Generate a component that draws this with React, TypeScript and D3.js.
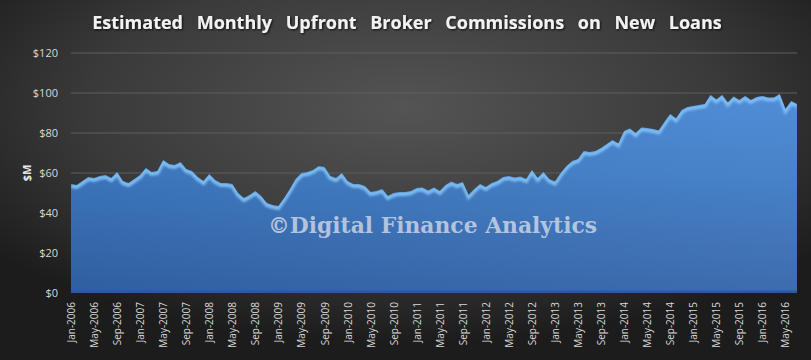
import React from "react";
import * as d3 from "d3";

const startYear = 2006;
const values: number[] = [
  54.5, 54, 56, 58, 57.5, 58.5, 59, 57.5, 60.5, 56, 55, 57, 59, 62.5, 60.5, 61,
  66.5, 64.5, 64, 65.5, 62, 61, 58, 56, 59.5, 56.5, 55, 55, 54.5, 50, 47.5, 49,
  51, 48.5, 45, 44, 43.5, 47.5, 52, 57, 60, 60.5, 61.5, 63.5, 63, 58.5, 57.5, 60,
  56, 54.5, 54.5, 53.5, 50.5, 51, 52, 48.5, 50, 50.5, 50.5, 51, 52.5, 52.8, 51.2, 52.8,
  51, 54, 55.7, 54.5, 55.5, 49, 52, 54.5, 53, 55, 56, 58, 58.5, 57.7, 58.2, 57,
  61.5, 57.5, 60.5, 57, 55.7, 60, 63.5, 66, 67, 71, 70.5, 71, 72.5, 74.5, 76.5, 74.8,
  81, 82.3, 80, 82.8, 82.5, 82, 81.3, 85.5, 89.5, 87.3, 91.5, 93, 93.5, 94, 94.5, 99,
  96.8, 99, 95.2, 98.2, 96.5, 98.5, 96.5, 98, 98.5, 97.7, 97.7, 99.5, 92, 96, 94.5,
];
const monthNames = ["Jan", "Feb", "Mar", "Apr", "May", "Jun", "Jul", "Aug", "Sep", "Oct", "Nov", "Dec"];
const categories: string[] = values.map((_, i) => `${monthNames[i % 12]}-${startYear + Math.floor(i / 12)}`);
const yTicks = [0, 20, 40, 60, 80, 100, 120];
const title = "Estimated Monthly Upfront Broker Commissions on New Loans";

const W = 811, H = 360;
const left = 71, right = 797, top = 53, bottom = 293;

export default function App() {
  const x = d3.scaleLinear().domain([0, values.length - 1]).range([left, right]);
  const y = d3.scaleLinear().domain([0, 120]).range([bottom, top]);
  const area = d3.area<number>().x((_, i) => x(i)).y0(bottom).y1((d) => y(d));
  const line = d3.line<number>().x((_, i) => x(i)).y((d) => y(d));
  const areaPath = area(values) || "";
  const linePath = line(values) || "";

  return (
    <svg width={W} height={H} style={{ display: "block", position: "absolute", left: 0, top: 0 }}>
      <defs>
        <radialGradient id="bg" cx="0.5" cy="0.3" r="0.65">
          <stop offset="0" stopColor="#545454" />
          <stop offset="0.6" stopColor="#3a3a3a" />
          <stop offset="1" stopColor="#1c1c1c" />
        </radialGradient>
        <linearGradient id="areaFill" x1="0" y1={top} x2="0" y2={bottom} gradientUnits="userSpaceOnUse">
          <stop offset="0" stopColor="#4c8ede" />
          <stop offset="0.5" stopColor="#3f7cc6" />
          <stop offset="1" stopColor="#3364a8" />
        </linearGradient>
        <linearGradient id="areaSide" x1={left} y1="0" x2={right} y2="0" gradientUnits="userSpaceOnUse">
          <stop offset="0" stopColor="#000" stopOpacity="0.06" />
          <stop offset="1" stopColor="#fff" stopOpacity="0.05" />
        </linearGradient>
        <clipPath id="areaClip">
          <path d={areaPath} />
        </clipPath>
        <filter id="blur1" x="-5%" y="-20%" width="110%" height="140%">
          <feGaussianBlur stdDeviation="1" />
        </filter>
        <filter id="tshadow" x="-5%" y="-50%" width="110%" height="200%">
          <feDropShadow dx="1" dy="1" stdDeviation="1" floodColor="#000" floodOpacity="0.8" />
        </filter>
      </defs>
      <rect x={0} y={0} width={W} height={H} fill="#2a2a2a" />
      <rect x={0} y={0} width={W} height={H} fill="url(#bg)" />

      <text x={407} y={29} textAnchor="middle" fill="#f2f2f2" fontFamily="Open Sans, sans-serif"
        fontWeight="bold" fontSize={18} wordSpacing={9} filter="url(#tshadow)">{title}</text>

      {yTicks.map((t) => (
        <g key={t}>
          {t > 0 && <line x1={left} x2={right} y1={y(t)} y2={y(t)} stroke="#5f5f5f" strokeWidth={1} />}
          <text x={58} y={y(t) + 4} textAnchor="end" fill="#d9d9d9" fontFamily="Open Sans, sans-serif"
            fontSize={11}>{`$${t}`}</text>
        </g>
      ))}

      <text transform={`translate(31,${(top + bottom) / 2}) rotate(-90)`} textAnchor="middle" fill="#e6e6e6"
        fontFamily="Open Sans, sans-serif" fontWeight="bold" fontSize={11}>$M</text>

      <path d={areaPath} fill="url(#areaFill)" />
      <path d={areaPath} fill="url(#areaSide)" />
      <g clipPath="url(#areaClip)">
        <path d={linePath} fill="none" stroke="#2a5590" strokeWidth={2} transform="translate(0,-0.5)" opacity={0.6} />
        <path d={linePath} fill="none" stroke="#7dbcf2" strokeWidth={4} transform="translate(0,2)" filter="url(#blur1)" />
        <line x1={left} x2={right} y1={bottom - 1} y2={bottom - 1} stroke="#2d5a98" strokeWidth={3} />
      </g>

      {categories.map((c, i) => i % 4 === 0 ? (
        <text key={c} transform={`translate(${x(i) + 4},${302}) rotate(-90)`} textAnchor="end" fill="#d9d9d9"
          fontFamily="Open Sans, sans-serif" fontSize={10}>{c}</text>
      ) : null)}

      <text x={268} y={233} fill="#c9d3e6" fillOpacity={0.85} fontFamily="DejaVu Serif, serif" fontWeight="bold"
        fontSize={23} textLength={329} lengthAdjust="spacingAndGlyphs">©Digital Finance Analytics</text>
    </svg>
  );
}
